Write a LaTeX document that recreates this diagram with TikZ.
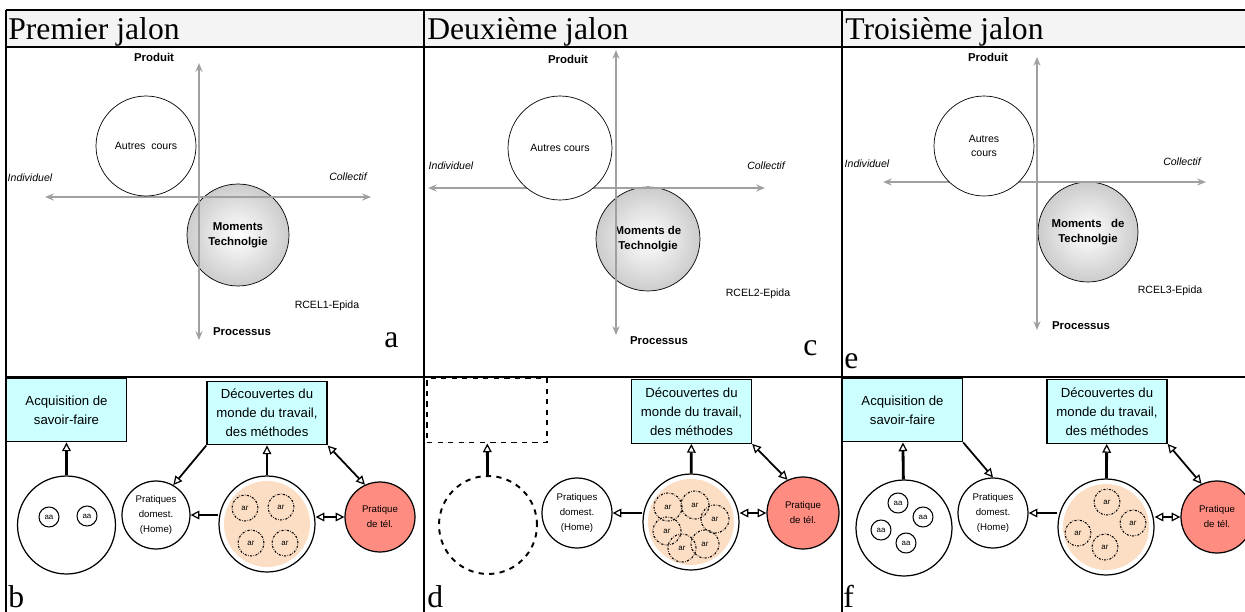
\documentclass[tikz,border=0pt]{standalone}
\usepackage{fontspec}
\setmainfont{Liberation Serif}
\setsansfont{Liberation Sans}
\usepackage{tikz}
\usetikzlibrary{arrows.meta}
\usetikzlibrary{positioning}
\definecolor{cyanpale}{RGB}{204,255,255}
\definecolor{peche}{RGB}{252,222,196}
\definecolor{saumon}{RGB}{255,140,128}
\definecolor{gristable}{RGB}{244,244,244}
\definecolor{grisaxe}{RGB}{160,160,160}
\tikzset{
  tableau/.style={line width=1.1pt},
  titre/.style={anchor=base west, inner sep=0pt, font=\fontsize{18}{20}\selectfont},
  lettre/.style={anchor=base west, inner sep=0pt, font=\fontsize{18}{20}\selectfont},
  axe/.style={{Stealth[length=5pt,width=4pt]}-{Stealth[length=5pt,width=4pt]}, line width=1.2pt, draw=grisaxe},
  pole/.style={font=\sffamily\bfseries\fontsize{6.5}{8}\selectfont, inner sep=1pt},
  cote/.style={font=\sffamily\itshape\fontsize{6}{7}\selectfont, inner sep=1pt},
  etiquette/.style={font=\sffamily\fontsize{6}{7}\selectfont, inner sep=1pt},
  autres/.style={circle, draw, line width=0.4pt, fill=white, minimum size=#1, inner sep=0pt, align=center, font=\sffamily\fontsize{6}{8}\selectfont},
  moments/.style={circle, draw, line width=0.4pt, shading=radial, inner color=white, outer color=gray!40, minimum size=#1, inner sep=0pt, align=center, font=\sffamily\bfseries\fontsize{6.5}{8.5}\selectfont},
  boite/.style={draw, line width=0.8pt, fill=cyanpale, align=center, minimum width=2.4cm, minimum height=1.27cm, inner sep=1pt, font=\sffamily\fontsize{7.5}{10.8}\selectfont},
  vide/.style={draw, dashed, line width=1.1pt, minimum width=2.4cm, minimum height=1.28cm},
  cercle/.style={circle, draw, line width=0.7pt, fill=white, minimum size=#1, inner sep=0pt, align=center, font=\sffamily\fontsize{5.5}{8.5}\selectfont},
  tel/.style={cercle=#1, fill=saumon},
  petit/.style={circle, draw, line width=0.6pt, minimum size=0.4cm, inner sep=0pt, font=\sffamily\fontsize{4.5}{5}\selectfont},
  atelier/.style={circle, draw, line width=0.6pt, dash pattern=on 1.2pt off 0.8pt on 0.3pt off 0.8pt, minimum size=#1, inner sep=0pt, font=\sffamily\fontsize{4.5}{5}\selectfont},
  atelier/.default=0.52cm,
  fleche/.style={-{Triangle[open, line width=0.7pt, length=5pt, width=5pt]}, line width=1.6pt},
  fleches/.style={{Triangle[open, line width=0.7pt, length=5pt, width=5pt]}-{Triangle[open, line width=0.7pt, length=5pt, width=5pt]}, line width=1.6pt},
  fine/.style={line width=1pt},
}
\begin{document}
\begin{tikzpicture}[x=0.02cm, y=-0.02cm]
  \useasboundingbox (0,0) rectangle (1245,612);

  % tableau
  \fill[gristable] (6,10) rectangle (1245,47);
  \draw[tableau] (6,10) -- (1245,10);
  \draw[tableau] (6,47) -- (1245,47);
  \draw[tableau] (6,377) -- (1245,377);
  \draw[tableau] (6,10) -- (6,612);
  \draw[tableau] (424,10) -- (424,612);
  \draw[tableau] (842,10) -- (842,612);

  \node[titre] (t1) at (8,39) {Premier jalon};
  \node[titre] (t2) at (427,39) {Deuxième jalon};
  \node[titre] (t3) at (845,39) {Troisième jalon};

  % premier jalon
  \coordinate (haut-a) at (199,63);
  \coordinate (bas-a) at (199,340);
  \coordinate (gauche-a) at (45,197);
  \coordinate (droite-a) at (371,197);
  \node[moments=2.04cm] (mta) at (238,235) {Moments\\Technolgie};
  \draw[axe] (bas-a) -- (haut-a);
  \draw[axe] (gauche-a) -- (droite-a);
  \node[autres=2.0cm] (aca) at (146,146) {Autres\ \ cours};
  \node[pole] (proda) at (154,57) {Produit};
  \node[cote] (inda) at (30,178) {Individuel};
  \node[cote] (cola) at (348,177) {Collectif};
  \node[etiquette] (rcela) at (327,306) {RCEL1-Epida};
  \node[pole] (proca) at (242,332) {Processus};
  \node[lettre] (la) at (384,347) {a};

  % deuxieme jalon
  \coordinate (haut-c) at (616,50);
  \coordinate (bas-c) at (616,335);
  \coordinate (gauche-c) at (428,188);
  \coordinate (droite-c) at (765,188);
  \node[moments=2.08cm] (mtc) at (648,239) {Moments de\\Technolgie};
  \draw[axe] (bas-c) -- (haut-c);
  \draw[axe] (gauche-c) -- (droite-c);
  \node[autres=2.08cm] (acc) at (560,148) {Autres cours};
  \node[pole] (prodc) at (568,59) {Produit};
  \node[cote] (indc) at (451,166) {Individuel};
  \node[cote] (colc) at (766,166) {Collectif};
  \node[etiquette] (rcelc) at (758,294) {RCEL2-Epida};
  \node[pole] (procc) at (659,341) {Processus};
  \node[lettre] (lc) at (803,355) {c};

  % troisieme jalon
  \coordinate (haut-e) at (1037,57);
  \coordinate (bas-e) at (1037,330);
  \coordinate (gauche-e) at (883,182);
  \coordinate (droite-e) at (1206,182);
  \node[moments=2.0cm] (mte) at (1088,232) {Moments\ \ \ de\\Technolgie};
  \draw[axe] (bas-e) -- (haut-e);
  \draw[axe] (gauche-e) -- (droite-e);
  \node[autres=2.0cm] (ace) at (984,146) {Autres\\cours};
  \node[pole] (prode) at (988,57) {Produit};
  \node[cote] (inde) at (867,164) {Individuel};
  \node[cote] (cole) at (1182,162) {Collectif};
  \node[etiquette] (rcele) at (1170,291) {RCEL3-Epida};
  \node[pole] (proce) at (1081,326) {Processus};
  \node[lettre] (le) at (844,368) {e};

  % b
  \node[boite] (acqb) at (66.5,410) {Acquisition de\\savoir-faire};
  \node[boite] (decb) at (267,413) {Découvertes du\\monde du travail,\\des méthodes};
  \node[cercle=1.96cm] (gb) at (66.5,525) {};
  \node[petit] (aa-b1) at (49,517) {aa};
  \node[petit] (aa-b2) at (87,516) {aa};
  \node[cercle=1.36cm] (prb) at (156,515) {Pratiques\\domest.\\(Home)};
  \node[cercle=1.92cm] (mb) at (267,524) {};
  \fill[peche] (mb) circle (0.86cm);
  \node[atelier] (ar-b1) at (245,508) {ar};
  \node[atelier] (ar-b2) at (281,507) {ar};
  \node[atelier] (ar-b3) at (251,543) {ar};
  \node[atelier] (ar-b4) at (285,543) {ar};
  \node[tel=1.4cm] (tb) at (380,517) {Pratique\\de tél.};
  \draw[fleche] (gb) -- (acqb);
  \draw[fleche] (mb) -- (decb);
  \draw[fleche, fine] (decb.south west) -- (prb.60);
  \draw[fleches, fine] (decb.south east) -- (tb.115);
  \draw[fleche] (mb.west |- prb) -- (prb);
  \draw[fleches] (mb.east |- tb) -- (tb);
  \node[lettre] (lb) at (8,607) {b};

  % d
  \node[vide] (vd) at (487,410.5) {};
  \node[boite] (decd) at (691.5,411.5) {Découvertes du\\monde du travail,\\des méthodes};
  \node[cercle=1.96cm, dashed, line width=1.1pt] (gd) at (488,525) {};
  \node[cercle=1.4cm] (prd) at (577,513) {Pratiques\\domest.\\(Home)};
  \node[cercle=1.92cm] (md) at (691,522) {};
  \fill[peche] (md) circle (0.86cm);
  \node[atelier=0.56cm] (ar-d1) at (668,507) {ar};
  \node[atelier=0.56cm] (ar-d2) at (695,505) {ar};
  \node[atelier=0.56cm] (ar-d3) at (715,519) {ar};
  \node[atelier=0.56cm] (ar-d4) at (667,531) {ar};
  \node[atelier=0.56cm] (ar-d5) at (682,548) {ar};
  \node[atelier=0.56cm] (ar-d6) at (705,544) {ar};
  \node[tel=1.44cm] (td) at (803,513) {Pratique\\de tél.};
  \draw[fleche] (gd) -- (vd);
  \draw[fleche] (md) -- (decd);
  \draw[fleches, fine] (decd.south east) -- (td.115);
  \draw[fleche] (md.west |- prd) -- (prd);
  \draw[fleches] (md.east |- td) -- (td);
  \node[lettre] (ld) at (427,607) {d};

  % f
  \node[boite] (acqf) at (902.5,410) {Acquisition de\\savoir-faire};
  \node[boite] (decf) at (1107,411.5) {Découvertes du\\monde du travail,\\des méthodes};
  \node[cercle=1.92cm] (gf) at (904,528) {};
  \node[petit] (aa-f1) at (898,503) {aa};
  \node[petit] (aa-f2) at (923,517) {aa};
  \node[petit] (aa-f3) at (881,530) {aa};
  \node[petit] (aa-f4) at (906,543) {aa};
  \node[cercle=1.4cm] (prf) at (993,513) {Pratiques\\domest.\\(Home)};
  \node[cercle=1.92cm] (mf) at (1106,527) {};
  \fill[peche] (mf) circle (0.86cm);
  \node[atelier] (ar-f1) at (1107,502) {ar};
  \node[atelier] (ar-f2) at (1133,523) {ar};
  \node[atelier] (ar-f3) at (1078,533) {ar};
  \node[atelier] (ar-f4) at (1105,547) {ar};
  \node[tel=1.44cm] (tf) at (1217,517) {Pratique\\de tél.};
  \draw[fleche] (gf) -- (acqf);
  \draw[fleche, fine] (acqf.south east) -- (prf.north);
  \draw[fleche] (mf) -- (decf);
  \draw[fleches, fine] (decf.south east) -- (tf.115);
  \draw[fleche] (mf.west |- prf) -- (prf);
  \draw[fleches] (mf.east |- tf) -- (tf);
  \node[lettre] (lf) at (843,607) {f};
\end{tikzpicture}
\end{document}
